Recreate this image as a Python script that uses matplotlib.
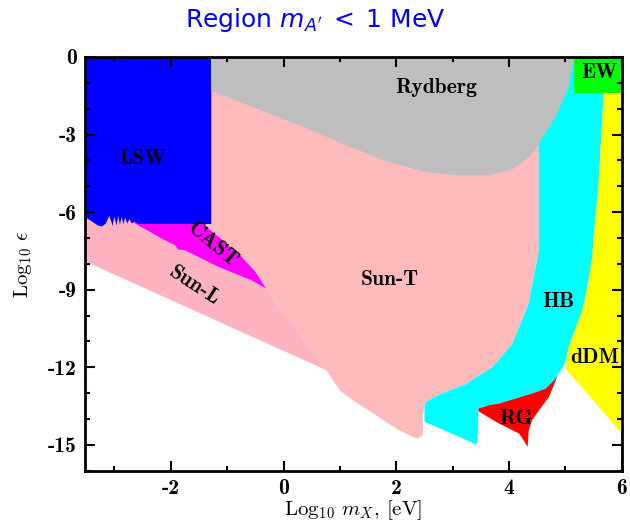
import matplotlib
matplotlib.use("Agg")
import matplotlib.pyplot as plt
from matplotlib.ticker import MultipleLocator, FuncFormatter

# --- boundaries (x = log10 m_X [eV], y = log10 eps) ---
# LSW: filled from its lower edge up to 0
lsw_x = [-3.52, -3.40, -3.30, -3.23, -3.16, -3.10, -3.07, -3.04, -3.01, -2.97,
         -2.94, -2.91, -2.88, -2.85, -2.82, -2.78, -2.74, -2.70, -2.65, -2.58, -1.29]
lsw_y = [-6.18, -6.35, -6.50, -6.54, -6.42, -6.12, -6.30, -6.52, -6.15, -6.50,
         -6.12, -6.48, -6.15, -6.45, -6.20, -6.42, -6.25, -6.42, -6.35, -6.44, -6.44]

# Rydberg: lower edge, filled up to 0
ryd_x = [-1.29, 0.28, 1.05, 1.76, 2.53, 3.06, 3.65, 4.06, 4.35, 4.53, 4.83, 5.06, 5.15, 5.17]
ryd_y = [-1.30, -2.63, -3.34, -3.98, -4.44, -4.56, -4.56, -4.31, -3.86, -3.34, -2.31, -1.15, -0.12, 0.0]

# CAST
cast_top_x = [-2.64, -1.43]
cast_top_y = [-6.30, -6.30]
cast_right_x = [-1.43, -1.10, -0.75, -0.50, -0.31]
cast_right_y = [-6.46, -7.05, -7.72, -8.30, -8.95]
cast_low_x = [-0.31, -0.57, -1.16, -1.75, -1.87, -1.93, -2.11, -2.64]
cast_low_y = [-8.95, -8.63, -8.11, -7.47, -7.44, -7.27, -7.08, -6.43]

# Sun-L
sunl_tip = (0.76, -12.11)
sunl_left = (-3.52, -7.90)

# Sun-T lower edge (after the Sun-L tip)
sunt_low_x = [1.00, 1.23, 2.05, 2.29, 2.38, 2.47, 2.48, 2.50]
sunt_low_y = [-12.90, -13.27, -14.43, -14.69, -14.75, -14.62, -13.78, -13.45]

# HB left edge, top to bottom
hb_left_x = [4.53, 4.53, 4.50, 4.38, 4.35, 4.06, 3.71, 3.23, 2.76, 2.53, 2.50]
hb_left_y = [-3.34, -7.47, -7.85, -9.14, -9.53, -11.08, -11.98, -12.65, -13.05, -13.33, -13.45]
# HB lower edge, left to right
hb_low_x = [2.50, 3.32, 3.41, 3.44, 3.46]
hb_low_y = [-14.10, -14.88, -15.00, -14.80, -13.59]

# RG
rg_top_x = [3.46, 3.65, 3.82, 4.41, 4.65, 4.80, 4.86]
rg_top_y = [-13.59, -13.46, -13.40, -13.01, -12.82, -12.50, -12.30]
rg_right_x = [4.86, 4.83, 4.71, 4.53, 4.41, 4.35, 4.33]
rg_right_y = [-12.30, -12.50, -13.14, -13.66, -14.04, -14.43, -15.07]
rg_left_x = [4.33, 4.26, 4.18, 3.82, 3.46]
rg_left_y = [-15.07, -14.82, -14.56, -14.17, -13.70]

# HB right edge going up from the RG tip
hb_right_x = [4.86, 4.92, 5.00, 5.06, 5.30, 5.38, 5.47, 5.50, 5.59, 5.68, 5.70, 5.70]
hb_right_y = [-12.30, -12.10, -11.80, -11.20, -9.79, -9.00, -7.85, -7.00, -4.89, -1.38, -1.00, 0.0]

# dDM left edge, top to bottom, then its lower edge
ddm_left_x = [5.68, 5.59, 5.50, 5.47, 5.38, 5.30, 5.06, 5.02, 5.00]
ddm_left_y = [-1.38, -4.89, -7.00, -7.85, -9.00, -9.79, -11.20, -11.80, -12.04]
ddm_low_x = [5.00, 5.98, 6.00]
ddm_low_y = [-12.04, -14.50, -14.50]

# EW box
ew_x = [5.15, 6.0]
ew_y = [-1.38, 0.0]

fig = plt.figure(figsize=(6.3, 5.22), dpi=100)
ax = fig.add_axes([0.135, 0.098, 0.852, 0.793])

# Sun-T (bottom layer)
st_x = [-1.29, -1.29, -1.43] + cast_right_x[1:] + [sunl_tip[0]] + sunt_low_x \
       + hb_left_x[::-1] + [4.53, -1.29]
st_y = [-1.00, -6.44, -6.46] + cast_right_y[1:] + [sunl_tip[1]] + sunt_low_y \
       + hb_left_y[::-1] + [-1.00, -1.00]
ax.fill(st_x, st_y, color="#ffbbbb", lw=0)

# Sun-L
sl_x = [-3.52, -1.43] + cast_right_x + [sunl_tip[0], sunl_left[0]]
sl_y = [-6.00, -6.30] + cast_right_y + [sunl_tip[1], sunl_left[1]]
ax.fill(sl_x, sl_y, color="#ffb3c1", lw=0)

# CAST
ax.fill(cast_top_x + cast_right_x + cast_low_x,
        cast_top_y + cast_right_y + cast_low_y, color="#ff00ff", lw=0)

# LSW
ax.fill_between(lsw_x, lsw_y, 0, color="#0000ff", lw=0)

# Rydberg
ax.fill_between(ryd_x, ryd_y, 0, color="#bebebe", lw=0)

# HB
ryd_tail = 5  # Rydberg edge points from the top right down to x = 4.53
hb_x = ryd_x[::-1][:ryd_tail] + hb_left_x[1:] + hb_low_x + rg_top_x + hb_right_x[1:]
hb_y = ryd_y[::-1][:ryd_tail] + hb_left_y[1:] + hb_low_y + rg_top_y + hb_right_y[1:]
ax.fill(hb_x, hb_y, color="#00ffff", lw=0)

# RG
ax.fill(rg_top_x + rg_right_x[1:] + rg_left_x[1:],
        rg_top_y + rg_right_y[1:] + rg_left_y[1:], color="#ff0000", lw=0)

# dDM
ax.fill(ddm_left_x + ddm_low_x[1:] + [6.0],
        ddm_left_y + ddm_low_y[1:] + [-1.38], color="#ffff00", lw=0)

# EW
ax.fill([ew_x[0], ew_x[1], ew_x[1], ew_x[0]],
        [ew_y[0], ew_y[0], ew_y[1], ew_y[1]], color="#00ff00", lw=0)

# labels
lab = dict(family="cmb10", fontsize=15.5, ha="center", va="center", color="black")
ax.text(-2.50, -3.91, "LSW", **lab)
ax.text(2.71, -1.20, "Rydberg", **lab)
ax.text(5.61, -0.62, "EW", **lab)
ax.text(-1.26, -7.27, "CAST", rotation=-40, **lab)
ax.text(-1.58, -8.86, "Sun-L", rotation=-33, **lab)
ax.text(1.88, -8.59, "Sun-T", **lab)
ax.text(4.88, -9.44, "HB", **lab)
ax.text(5.52, -11.60, "dDM", **lab)
ax.text(4.12, -13.96, "RG", **lab)

ax.set_xlim(-3.52, 6.0)
ax.set_ylim(-16.0, 0.0)
ax.xaxis.set_major_locator(MultipleLocator(2))
ax.xaxis.set_minor_locator(MultipleLocator(1))
ax.yaxis.set_major_locator(MultipleLocator(3))
ax.yaxis.set_minor_locator(MultipleLocator(1))
fmt = FuncFormatter(lambda v, p: "%d" % round(v))
ax.xaxis.set_major_formatter(fmt)
ax.yaxis.set_major_formatter(fmt)
ax.tick_params(which="both", direction="in", top=True, right=True, width=1.5)
ax.tick_params(which="major", length=7, pad=6)
ax.tick_params(which="minor", length=3.5)
for t in ax.get_xticklabels() + ax.get_yticklabels():
    t.set_family("cmb10")
    t.set_fontsize(15.5)
for s in ax.spines.values():
    s.set_linewidth(2)

ax.set_xlabel(r"Log$_{10}$ $m_X$, [eV]", family="cmr10", math_fontfamily="cm", fontsize=15, labelpad=0)
ax.set_ylabel(r"Log$_{10}$ $\epsilon$", family="cmr10", math_fontfamily="cm", fontsize=15, labelpad=10)
fig.text(0.5, 0.962, r"Region $m_{A'}\;<\;1$ MeV", ha="center", va="center",
         color="#0000ff", fontsize=18, family="DejaVu Sans", math_fontfamily="dejavusans")

plt.savefig("out.png", dpi=100)
plt.close()
